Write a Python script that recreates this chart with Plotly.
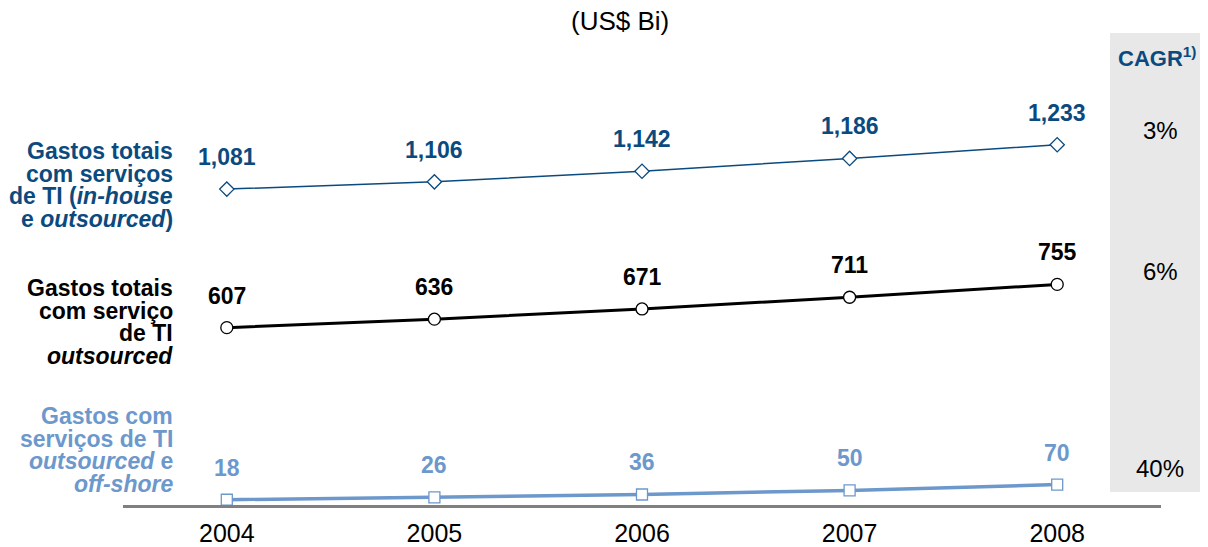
import plotly.graph_objects as go

years = ["2004", "2005", "2006", "2007", "2008"]
total_it = [1081, 1106, 1142, 1186, 1233]
outsourced = [607, 636, 671, 711, 755]
offshore = [18, 26, 36, 50, 70]
cagr = ["3%", "6%", "40%"]

label_total = ["Gastos totais", "com serviços", "de TI (<i>in-house</i>", "e <i>outsourced</i>)"]
label_outs = ["Gastos totais", "com serviço", "de TI", "<i>outsourced</i>"]
label_off = ["Gastos com", "serviços de TI", "<i>outsourced</i> e", "<i>off-shore</i>"]

DARK = "#0B4A7E"
LIGHT = "#6C98CC"
BLACK = "#000000"
FONT = "Liberation Sans, Arial, sans-serif"

OFF = 8  # page body margin
W, H = 1200, 539
ML, MR, MT, MB = 115, 47, 92, 42
PW, PH = W - ML - MR, H - MT - MB


def px(x):
    return (x - OFF - ML) / PW


def py(y):
    return (H - MB - (y - OFF)) / PH


fig = go.Figure()

series = [
    (total_it, DARK, 1.5, "diamond", 11, 1.3),
    (outsourced, BLACK, 3, "circle", 12, 1.3),
    (offshore, LIGHT, 3.5, "square", 11, 1.3),
]
for vals, col, lw, sym, ms, mlw in series:
    fig.add_trace(go.Scatter(
        x=years, y=vals, mode="lines+markers",
        line=dict(color=col, width=lw),
        marker=dict(symbol=sym, size=ms, color="white", line=dict(color=col, width=mlw)),
        hoverinfo="skip", showlegend=False, cliponaxis=False,
    ))

annotations = []
fmt = lambda v: f"{v:,}"
for vals, col in [(total_it, DARK), (outsourced, BLACK), (offshore, LIGHT)]:
    for i, v in enumerate(vals):
        annotations.append(dict(
            x=i, y=v, xref="x", yref="y", text=f"<b>{fmt(v)}</b>",
            showarrow=False, yshift=32, xanchor="center", yanchor="middle",
            font=dict(family=FONT, size=23, color=col),
        ))

# left labels
for lines, col, y0 in [(label_total, DARK, 151), (label_outs, BLACK, 288), (label_off, LIGHT, 416)]:
    for i, t in enumerate(lines):
        annotations.append(dict(
            x=px(175), y=py(y0 + i * 22.6), xref="paper", yref="paper",
            text=f"<b>{t}</b>", showarrow=False, xanchor="right", yanchor="middle",
            font=dict(family=FONT, size=23, color=col),
        ))

# title
annotations.append(dict(
    x=px(620), y=py(21), xref="paper", yref="paper", text="(US$ Bi)",
    showarrow=False, xanchor="center", yanchor="middle",
    font=dict(family=FONT, size=26, color=BLACK),
))

# CAGR column
annotations.append(dict(
    x=px(1157), y=py(57), xref="paper", yref="paper",
    text="<b>CAGR<sup>1)</sup></b>",
    showarrow=False, xanchor="center", yanchor="middle",
    font=dict(family=FONT, size=22, color=DARK),
))
for t, yy in zip(cagr, [130, 271, 468]):
    annotations.append(dict(
        x=px(1160), y=py(yy), xref="paper", yref="paper", text=t,
        showarrow=False, xanchor="center", yanchor="middle",
        font=dict(family=FONT, size=24, color=BLACK),
    ))

fig.add_shape(type="rect", xref="paper", yref="paper",
              x0=px(1110), x1=px(1208), y0=py(492), y1=py(33),
              fillcolor="#E8E8E8", line=dict(width=0), layer="below")

fig.update_layout(
    width=W, height=H,
    margin=dict(l=ML, r=MR, t=MT, b=MB, autoexpand=False),
    paper_bgcolor="white", plot_bgcolor="rgba(0,0,0,0)",
    annotations=annotations,
    xaxis=dict(type="category", range=[-0.5, 4.5], showgrid=False, zeroline=False,
               showline=True, linecolor="#808080", linewidth=3, ticks="",
               automargin=False, ticklabelstandoff=4,
               tickfont=dict(family=FONT, size=25, color=BLACK)),
    yaxis=dict(range=[0, 1386], visible=False, showgrid=False, zeroline=False,
               automargin=False),
    font=dict(family=FONT),
)

fig.write_html("out.html")
